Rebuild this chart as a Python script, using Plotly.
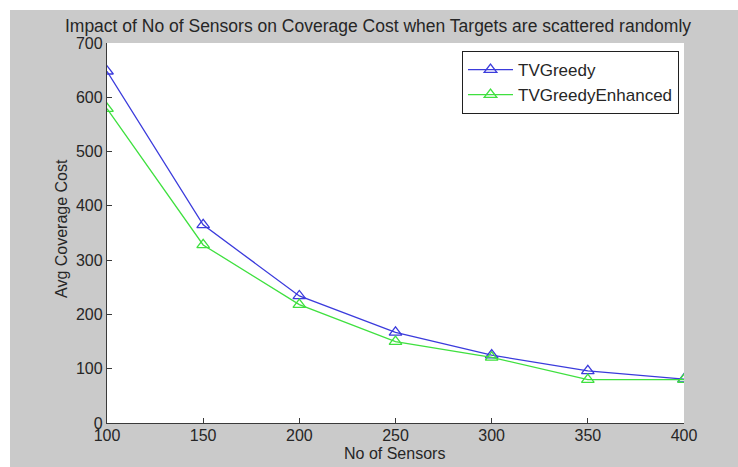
import plotly.graph_objects as go

# Number of deployed sensors
sensors = [100, 150, 200, 250, 300, 350, 400]

# Average coverage cost for each algorithm
tv_greedy = [648, 365, 234, 167, 125, 96, 81]
tv_greedy_enhanced = [579, 328, 218, 150, 121, 80, 80]

x_ticks = [100, 150, 200, 250, 300, 350, 400]
y_ticks = [0, 100, 200, 300, 400, 500, 600, 700]

W, H = 738, 467
L, R, T, B = 107, 54, 43, 44
pw, ph = W - L - R, H - T - B

font_family = "Liberation Sans, Arial, sans-serif"
text_color = "#262626"
axis_color = "#3a3a3a"
fs_title = 17.5
fs_legend = 17
fs = 16

fig = go.Figure()

fig.add_trace(go.Scatter(
    x=sensors, y=tv_greedy, name="TVGreedy", mode="lines+markers",
    line=dict(color="#3b3bdc", width=1.3),
    marker=dict(symbol="triangle-up-open", size=11, color="#3b3bdc",
                line=dict(width=1.3, color="#3b3bdc")),
))
fig.add_trace(go.Scatter(
    x=sensors, y=tv_greedy_enhanced, name="TVGreedyEnhanced", mode="lines+markers",
    line=dict(color="#3fe03f", width=1.3),
    marker=dict(symbol="triangle-up-open", size=11, color="#3fe03f",
                line=dict(width=1.3, color="#3fe03f")),
))

# grey figure panel with a thin white strip along the top and left edges
fig.add_shape(type="rect", xref="paper", yref="paper", layer="below",
              x0=(10 - L) / pw, x1=(W + 5 - L) / pw,
              y0=-(B + 5) / ph, y1=(H - B - 10) / ph,
              fillcolor="#cacaca", line=dict(width=0))
fig.add_shape(type="rect", xref="paper", yref="paper", layer="below",
              x0=0, x1=1, y0=0, y1=1,
              fillcolor="white", line=dict(width=0))

# axis titles placed as annotations at fixed pixel offsets from the plot area
fig.add_annotation(text="No of Sensors", xref="paper", yref="paper",
                   x=(394 - L) / pw, y=-(454 - (H - B)) / ph,
                   xanchor="center", yanchor="middle", showarrow=False,
                   font=dict(family=font_family, size=fs, color=text_color))
fig.add_annotation(text="Avg Coverage Cost", xref="paper", yref="paper",
                   x=-(L - 61) / pw, y=((H - B) - 229) / ph, textangle=-90,
                   xanchor="center", yanchor="middle", showarrow=False,
                   font=dict(family=font_family, size=fs, color=text_color))

fig.update_layout(
    width=W, height=H,
    margin=dict(l=L, r=R, t=T, b=B),
    paper_bgcolor="white",
    plot_bgcolor="white",
    font=dict(family=font_family, size=fs, color=text_color),
    title=dict(
        text="Impact of No of Sensors on Coverage Cost when Targets are scattered randomly",
        x=(378 - L) / pw, xref="paper", xanchor="center",
        y=1 - 26 / H, yref="container", yanchor="middle",
        font=dict(family=font_family, size=fs_title, color=text_color),
    ),
    showlegend=True,
    legend=dict(
        x=(679 - L) / pw, xanchor="right",
        y=(H - B - 51) / ph, yanchor="top",
        bgcolor="white", bordercolor="#202020", borderwidth=1,
        font=dict(family=font_family, size=fs_legend, color=text_color),
        tracegroupgap=0, itemwidth=45,
    ),
)

fig.update_xaxes(
    range=[100, 400], tickmode="array", tickvals=x_ticks,
    ticktext=[str(v) for v in x_ticks],
    automargin=False,
    showgrid=False, zeroline=False,
    showline=True, linecolor=axis_color, linewidth=1.3,
    ticks="inside", ticklen=5, tickcolor=axis_color, tickwidth=1.3,
    ticklabelstandoff=-2,
    tickfont=dict(family=font_family, size=fs, color=text_color),
)
fig.update_yaxes(
    range=[0, 700], tickmode="array", tickvals=y_ticks,
    ticktext=[str(v) for v in y_ticks],
    automargin=False,
    showgrid=False, zeroline=False,
    showline=True, linecolor=axis_color, linewidth=1.3,
    ticks="inside", ticklen=5, tickcolor=axis_color, tickwidth=1.3,
    tickfont=dict(family=font_family, size=fs, color=text_color),
)

fig.write_html("out.html")
